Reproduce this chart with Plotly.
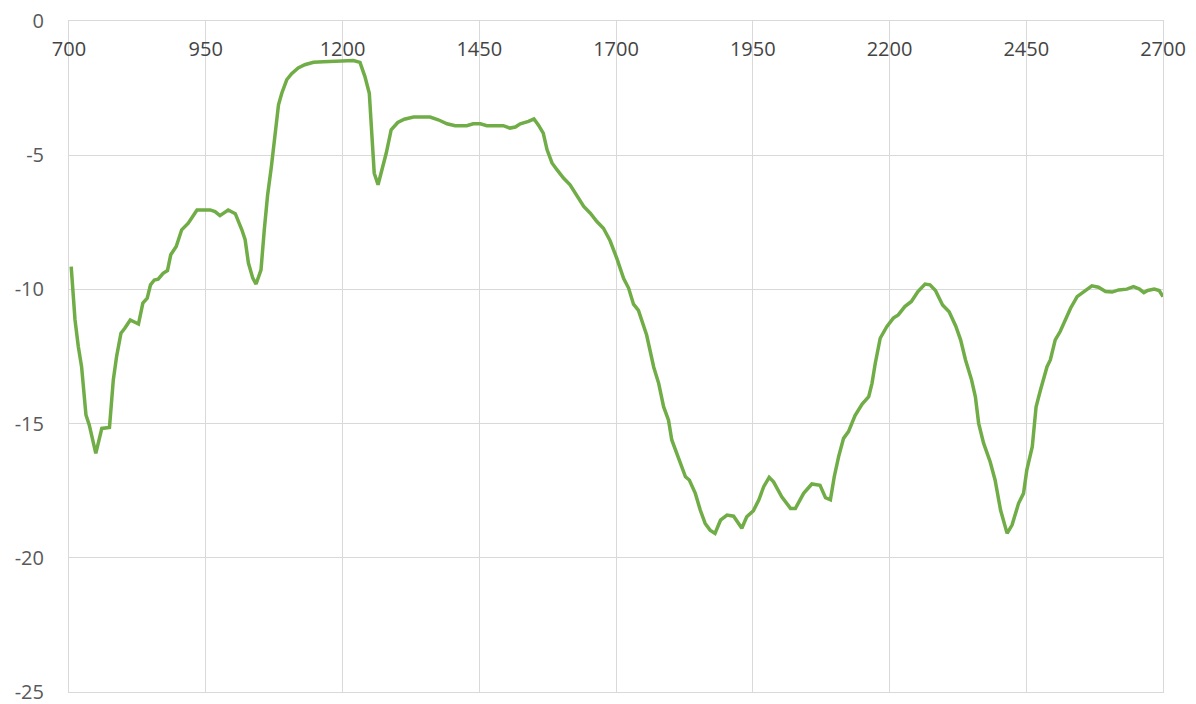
import plotly.graph_objects as go

# ── Reflectance trace ───────────────────────────────────────────────────────
wavelength = [
    704, 711, 717, 723, 731, 737, 749, 760, 774, 781, 787, 795, 802, 812, 827,
    835, 843, 849, 856, 863, 872, 880, 886, 896, 906, 918, 934, 946, 958, 967,
    976, 991, 1004, 1016, 1022, 1028, 1036, 1042, 1051, 1057, 1063, 1070, 1077,
    1083, 1089, 1098, 1107, 1119, 1131, 1147, 1165, 1183, 1202, 1220, 1232,
    1241, 1249, 1253, 1258, 1265, 1271, 1280, 1289, 1301, 1313, 1330, 1360,
    1375, 1391, 1406, 1427, 1439, 1452, 1464, 1494, 1506, 1516, 1525, 1540,
    1550, 1558, 1567, 1574, 1583, 1592, 1604, 1616, 1628, 1641, 1653, 1665,
    1677, 1689, 1702, 1714, 1723, 1732, 1741, 1756, 1769, 1778, 1787, 1796,
    1802, 1814, 1827, 1834, 1845, 1854, 1863, 1872, 1881, 1891, 1903, 1915,
    1922, 1930, 1939, 1951, 1961, 1970, 1980, 1988, 2003, 2019, 2028, 2043,
    2058, 2073, 2083, 2092, 2099, 2107, 2116, 2125, 2137, 2150, 2162, 2168,
    2174, 2183, 2195, 2207, 2216, 2228, 2240, 2252, 2265, 2274, 2284, 2297,
    2309, 2321, 2330, 2339, 2350, 2357, 2363, 2372, 2384, 2393, 2403, 2415,
    2424, 2436, 2445, 2451, 2461, 2468, 2476, 2488, 2494, 2503, 2512, 2522,
    2531, 2543, 2555, 2570, 2582, 2595, 2607, 2619, 2634, 2646, 2657, 2665,
    2672, 2684, 2693, 2700,
]
values = [
    -9.15, -11.14, -12.13, -12.88, -14.68, -15.05, -16.11, -15.18, -15.14,
    -13.37, -12.5, -11.63, -11.45, -11.14, -11.29, -10.51, -10.33, -9.83,
    -9.65, -9.62, -9.4, -9.3, -8.71, -8.4, -7.78, -7.53, -7.04, -7.04, -7.04,
    -7.1, -7.25, -7.04, -7.18, -7.78, -8.15, -9.02, -9.58, -9.8, -9.27, -7.78,
    -6.5, -5.42, -4.3, -3.12, -2.69, -2.19, -1.96, -1.75, -1.63, -1.54, -1.52,
    -1.51, -1.47, -1.47, -1.54, -2.07, -2.69, -3.93, -5.67, -6.1, -5.67, -4.92,
    -4.05, -3.78, -3.66, -3.58, -3.58, -3.68, -3.83, -3.9, -3.9, -3.83, -3.83,
    -3.9, -3.9, -3.99, -3.95, -3.83, -3.74, -3.65, -3.87, -4.18, -4.8, -5.29,
    -5.54, -5.85, -6.1, -6.48, -6.91, -7.16, -7.47, -7.72, -8.18, -8.87, -9.6,
    -9.95, -10.55, -10.78, -11.7, -12.9, -13.5, -14.37, -14.87, -15.61, -16.23,
    -16.98, -17.1, -17.6, -18.22, -18.72, -18.97, -19.09, -18.6, -18.41,
    -18.45, -18.66, -18.9, -18.47, -18.25, -17.85, -17.35, -17.0, -17.17,
    -17.73, -18.16, -18.16, -17.6, -17.25, -17.3, -17.76, -17.84, -16.98,
    -16.23, -15.55, -15.3, -14.7, -14.27, -14.0, -13.5, -12.75, -11.82,
    -11.39, -11.07, -10.95, -10.64, -10.45, -10.08, -9.8, -9.83, -10.04,
    -10.58, -10.83, -11.36, -11.88, -12.63, -13.37, -14.0, -14.99, -15.73,
    -16.42, -17.1, -18.22, -19.09, -18.78, -17.97, -17.6, -16.73, -15.86,
    -14.37, -13.75, -12.88, -12.63, -11.88, -11.57, -11.07, -10.7, -10.27,
    -10.08, -9.87, -9.92, -10.08, -10.1, -10.02, -9.99, -9.9, -9.99, -10.12,
    -10.04, -9.99, -10.04, -10.27,
]

x_ticks = [700, 950, 1200, 1450, 1700, 1950, 2200, 2450, 2700]
x_labels = [str(v) for v in x_ticks]
y_ticks = [0, -5, -10, -15, -20, -25]
y_labels = ["0", "-5", "-10", "-15", "-20", "-25"]

LINE_GREEN = "#70AD47"
GRID = "#D9D9D9"
TEXT = "#595959"

fig = go.Figure(
    go.Scatter(
        x=wavelength,
        y=values,
        mode="lines",
        line=dict(color=LINE_GREEN, width=3.5),
        hoverinfo="skip",
    )
)

fig.update_layout(
    width=1196,
    height=704,
    paper_bgcolor="white",
    plot_bgcolor="white",
    font=dict(family="Open Sans, sans-serif", size=20, color=TEXT),
    showlegend=False,
    margin=dict(l=69, r=33, t=21, b=12),
    xaxis=dict(
        side="top",
        range=[700, 2700],
        tickvals=x_ticks,
        ticktext=x_labels,
        ticks="",
        ticklabelposition="inside",
        ticklabeloverflow="allow",
        ticklabelstandoff=22,
        automargin=False,
        showgrid=True,
        gridcolor=GRID,
        gridwidth=1,
        showline=True,
        linecolor=GRID,
        linewidth=1,
        mirror=True,
        zeroline=False,
    ),
    yaxis=dict(
        range=[-25, 0],
        tickvals=y_ticks,
        ticktext=y_labels,
        ticks="",
        ticklabeloverflow="allow",
        ticklabelstandoff=20,
        automargin=False,
        showgrid=True,
        gridcolor=GRID,
        gridwidth=1,
        showline=True,
        linecolor=GRID,
        linewidth=1,
        mirror=True,
        zeroline=False,
    ),
)

# drop the browser's default 8px body margin so the figure fills the window
fig.write_html(
    "out.html",
    config={"displayModeBar": False},
    post_script="document.body.style.margin='0';document.body.style.overflow='hidden';",
)
